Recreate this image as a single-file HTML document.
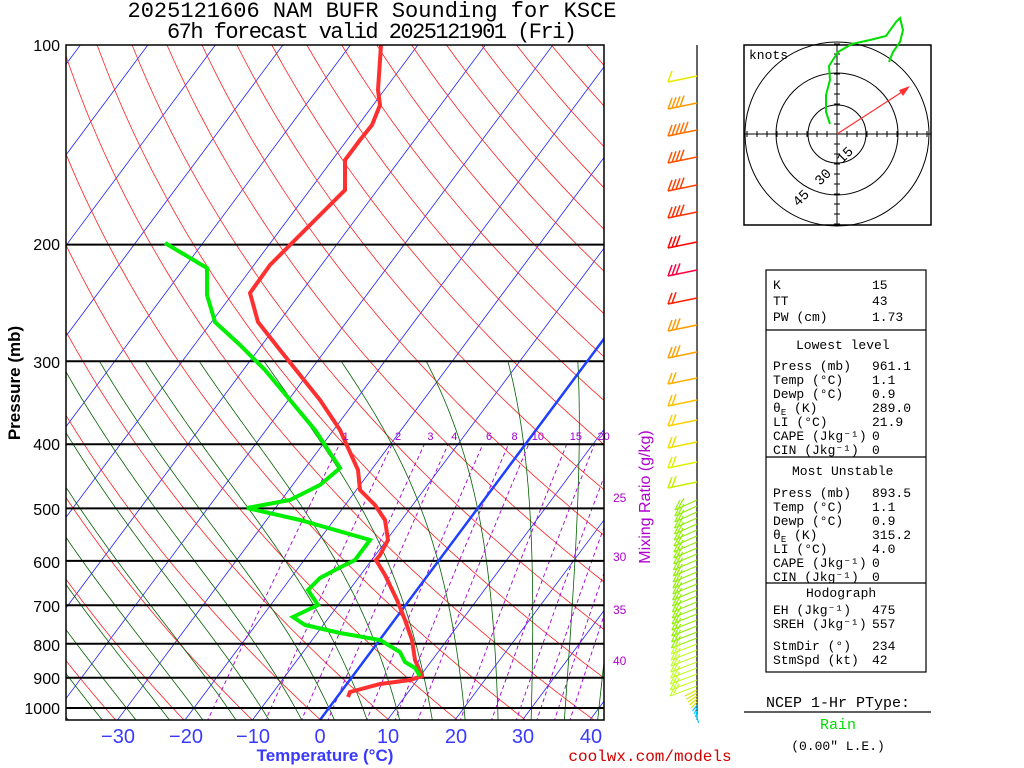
<!DOCTYPE html>
<html><head><meta charset="utf-8"><style>
body{margin:0;background:#fff;width:1024px;height:768px;overflow:hidden}
svg{display:block}
text{font-family:"Liberation Mono",monospace}
</style></head><body>
<svg id="s" width="1024" height="768" xmlns="http://www.w3.org/2000/svg">
<defs><clipPath id="c"><rect x="66" y="45" width="538" height="675"/></clipPath></defs>
<g id="bg" clip-path="url(#c)"></g>
<g id="fg"></g>
<text x="372" y="17" font-size="22" text-anchor="middle" textLength="489">2025121606 NAM BUFR Sounding for KSCE</text>
<text x="372" y="38" font-size="22" text-anchor="middle" textLength="410">67h forecast valid 2025121901 (Fri)</text>
<g font-size="16" text-anchor="end">
<text x="60" y="51" style="font-family:'Liberation Sans',sans-serif">100</text>
<text x="60" y="250" style="font-family:'Liberation Sans',sans-serif">200</text>
<text x="60" y="368" style="font-family:'Liberation Sans',sans-serif">300</text>
<text x="60" y="450" style="font-family:'Liberation Sans',sans-serif">400</text>
<text x="60" y="515" style="font-family:'Liberation Sans',sans-serif">500</text>
<text x="60" y="568" style="font-family:'Liberation Sans',sans-serif">600</text>
<text x="60" y="612" style="font-family:'Liberation Sans',sans-serif">700</text>
<text x="60" y="651" style="font-family:'Liberation Sans',sans-serif">800</text>
<text x="60" y="684" style="font-family:'Liberation Sans',sans-serif">900</text>
<text x="60" y="714" style="font-family:'Liberation Sans',sans-serif">1000</text>
</g>
<text transform="translate(20,383) rotate(-90)" font-size="17" font-weight="bold" text-anchor="middle" style="font-family:'Liberation Sans',sans-serif">Pressure (mb)</text>
<g font-size="20" fill="#3a3aff" text-anchor="middle">
<text x="118" y="743" style="font-family:'Liberation Sans'">−30</text>
<text x="186" y="743" style="font-family:'Liberation Sans'">−20</text>
<text x="253" y="743" style="font-family:'Liberation Sans'">−10</text>
<text x="320" y="743" style="font-family:'Liberation Sans'">0</text>
<text x="388" y="743" style="font-family:'Liberation Sans'">10</text>
<text x="456" y="743" style="font-family:'Liberation Sans'">20</text>
<text x="523" y="743" style="font-family:'Liberation Sans'">30</text>
<text x="591" y="743" style="font-family:'Liberation Sans'">40</text>
</g>
<text x="325" y="761" font-size="17" font-weight="bold" fill="#3a3aff" text-anchor="middle" style="font-family:'Liberation Sans',sans-serif">Temperature (°C)</text>
<text x="650" y="761" font-size="16" fill="#d00000" text-anchor="middle">coolwx.com/models</text>
<text transform="translate(650,497) rotate(-90)" font-size="16" fill="#b000d0" text-anchor="middle" style="font-family:'Liberation Sans',sans-serif">Mixing Ratio (g/kg)</text>
<g font-size="12" fill="#b000d0">
<text x="613" y="502" style="font-family:'Liberation Sans'">25</text><text x="613" y="561" style="font-family:'Liberation Sans'">30</text><text x="613" y="614" style="font-family:'Liberation Sans'">35</text><text x="613" y="665" style="font-family:'Liberation Sans'">40</text>
</g>
<rect x="744" y="45" width="187" height="180" fill="none" stroke="#000" stroke-width="1.5"/>
<g fill="none" stroke="#000" stroke-width="1">
<circle cx="837" cy="134" r="29"/><circle cx="837" cy="134" r="61"/><circle cx="837" cy="134" r="92"/>
<line x1="744" y1="134" x2="931" y2="134"/><line x1="837" y1="45" x2="837" y2="225"/>
</g>
<g id="hticks" stroke="#000" stroke-width="1"></g>
<text x="749" y="59" font-size="13">knots</text>
<text transform="translate(848,158) rotate(-45)" font-size="14" text-anchor="middle">15</text>
<text transform="translate(826,180) rotate(-45)" font-size="14" text-anchor="middle">30</text>
<text transform="translate(804,201) rotate(-45)" font-size="14" text-anchor="middle">45</text>
<polyline fill="none" stroke="#00dd00" stroke-width="2" points="830,124 826,112 826,95 830,80 829,66 838,52 852,44 870,40 886,36 896,22 900,18 903,30 900,42 893,52 889,62"/>
<line x1="837" y1="134" x2="905" y2="90" stroke="#ff3030" stroke-width="1.2"/>
<polygon points="910,86 899,90 903,96" fill="#ff3030"/>
<g fill="none" stroke="#000" stroke-width="1.2">
<rect x="766" y="270" width="160" height="402"/>
<line x1="766" y1="330" x2="926" y2="330"/><line x1="766" y1="457" x2="926" y2="457"/><line x1="766" y1="583" x2="926" y2="583"/>
</g>
<g font-size="13">
<text x="773" y="289">K</text><text x="872" y="289">15</text>
<text x="773" y="305">TT</text><text x="872" y="305">43</text>
<text x="773" y="321">PW (cm)</text><text x="872" y="321">1.73</text>
<text x="796" y="349">Lowest level</text>
<text x="773" y="370">Press (mb)</text><text x="872" y="370">961.1</text>
<text x="773" y="384">Temp (°C)</text><text x="872" y="384">1.1</text>
<text x="773" y="398">Dewp (°C)</text><text x="872" y="398">0.9</text>
<text x="773" y="412">θ<tspan font-size="9" dy="3">E</tspan><tspan dy="-3"> (K)</tspan></text><text x="872" y="412">289.0</text>
<text x="773" y="426">LI (°C)</text><text x="872" y="426">21.9</text>
<text x="773" y="440">CAPE (Jkg⁻¹)</text><text x="872" y="440">0</text>
<text x="773" y="454">CIN (Jkg⁻¹)</text><text x="872" y="454">0</text>
<text x="792" y="475">Most Unstable</text>
<text x="773" y="497">Press (mb)</text><text x="872" y="497">893.5</text>
<text x="773" y="511">Temp (°C)</text><text x="872" y="511">1.1</text>
<text x="773" y="525">Dewp (°C)</text><text x="872" y="525">0.9</text>
<text x="773" y="539">θ<tspan font-size="9" dy="3">E</tspan><tspan dy="-3"> (K)</tspan></text><text x="872" y="539">315.2</text>
<text x="773" y="553">LI (°C)</text><text x="872" y="553">4.0</text>
<text x="773" y="567">CAPE (Jkg⁻¹)</text><text x="872" y="567">0</text>
<text x="773" y="581">CIN (Jkg⁻¹)</text><text x="872" y="581">0</text>
<text x="806" y="597">Hodograph</text>
<text x="773" y="614">EH (Jkg⁻¹)</text><text x="872" y="614">475</text>
<text x="773" y="628">SREH (Jkg⁻¹)</text><text x="872" y="628">557</text>
<text x="773" y="650">StmDir (°)</text><text x="872" y="650">234</text>
<text x="773" y="664">StmSpd (kt)</text><text x="872" y="664">42</text>
</g>
<text x="838" y="707" font-size="15" text-anchor="middle">NCEP 1-Hr PType:</text>
<line x1="744" y1="712" x2="931" y2="712" stroke="#000" stroke-width="1.2"/>
<text x="838" y="729" font-size="15" fill="#00dd00" text-anchor="middle">Rain</text>
<text x="838" y="750" font-size="13" text-anchor="middle">(0.00" L.E.)</text>
<line x1="697" y1="45" x2="697" y2="720" stroke="#000" stroke-width="1.2"/>
<g id="barbs"></g>
</svg>
<script>
const NS="http://www.w3.org/2000/svg";
function Y(p){return 708-663*Math.log10(1000/p);}
function X(T,p){return 320+6.75*T+(720-Y(p))*0.745;}
const bg=document.getElementById('bg'),fg=document.getElementById('fg');
function pl(g,pts,col,w,dash){const e=document.createElementNS(NS,'polyline');e.setAttribute('points',pts.map(a=>a[0].toFixed(1)+','+a[1].toFixed(1)).join(' '));e.setAttribute('fill','none');e.setAttribute('stroke',col);e.setAttribute('stroke-width',w);if(dash)e.setAttribute('stroke-dasharray',dash);g.appendChild(e);}
const ht=document.getElementById('hticks');
for(let d=-90;d<=90;d+=10){if(d==0)continue;pl(ht,[[837+d,131],[837+d,137]],'#000',1);pl(ht,[[834,134+d],[840,134+d]],'#000',1);}
for(let T=-140;T<=40;T+=10){pl(bg,[[X(T,1050),Y(1050)],[X(T,95),Y(95)]],'#2020ff',0.8);}
for(let th=200;th<=600;th+=10){const pts=[];for(let p=1050;p>=95;p-=5){const T=th*Math.pow(p/1000,0.286)-273.15;pts.push([X(T,p),Y(p)]);}pl(bg,pts,'#ff2020',0.8);}
function es(T){return 6.112*Math.exp(17.67*T/(T+243.5));}
for(let T0=-45;T0<=40;T0+=5){let Tt=T0+273.15;const pts=[];
 for(let q=1000;q<1050;q+=1){const rs=0.622*es(Tt-273.15)/(q-es(Tt-273.15));const d=(287*Tt+2.5e6*rs)/(1004+2.5e6*2.5e6*rs*0.622/(287*Tt*Tt))/q;Tt+=d;}
 let T=Tt;for(let p=1050;p>=300;p-=2){pts.push([X(T-273.15,p),Y(p)]);const rs=0.622*es(T-273.15)/(p-es(T-273.15));const d=(287*T+2.5e6*rs)/(1004+2.5e6*2.5e6*rs*0.622/(287*T*T))/p;T-=d*2;}
 pl(bg,pts,'#006000',0.8);}
[1,2,3,4,6,8,10,15,20,25,30,35,40].forEach(w=>{const pts=[];for(let p=1050;p>=400;p-=10){const e=w*p/(622+w);const l=Math.log(e/6.112);const T=243.5*l/(17.67-l);pts.push([X(T,p),Y(p)]);}pl(bg,pts,'#a000d0',0.9,'4,3');
 if(w<=20){const e=w*400/(622+w);const l=Math.log(e/6.112);const T=243.5*l/(17.67-l);const t=document.createElementNS(NS,'text');t.setAttribute('x',X(T,400)+3);t.setAttribute('y',440);t.setAttribute('font-size','11');t.setAttribute('fill','#a000d0');t.setAttribute('style',"font-family:'Liberation Sans'");t.textContent=w;fg.appendChild(t);}});
[200,300,400,500,600,700,800,900,1000].forEach(p=>pl(bg,[[66,Y(p)],[604,Y(p)]],'#000',2));
pl(bg,[[X(0,1050),Y(1050)],[X(0,95),Y(95)]],'#2040ff',2.5);
pl(bg,[[381,45],[378,90],[380,105],[372,125],[360,140],[345,160],[345,190],[320,215],[295,240],[270,265],[250,293],[258,322],[280,350],[300,375],[320,400],[340,430],[358,470],[360,490],[375,505],[385,520],[388,540],[380,555],[376,560],[385,575],[397,600],[405,620],[412,640],[415,660],[422,676],[410,680],[380,684],[365,688],[350,692],[348,697]],'#ff3030',4);
pl(bg,[[165,243],[207,268],[207,295],[215,322],[240,345],[265,370],[290,400],[315,430],[340,468],[320,485],[290,500],[247,508],[300,520],[370,540],[355,560],[335,570],[320,578],[308,590],[318,605],[293,617],[305,625],[340,633],[380,640],[400,652],[405,662],[415,668],[420,676]],'#00ee00',4);
const r=document.createElementNS(NS,'rect');r.setAttribute('x',66);r.setAttribute('y',45);r.setAttribute('width',538);r.setAttribute('height',675);r.setAttribute('fill','none');r.setAttribute('stroke','#000');r.setAttribute('stroke-width','1.5');fg.appendChild(r);
const bb=document.getElementById('barbs');
const lv=[[76,'#e8e800',1],[103,'#ff9900',4],[130,'#ff7000',5],[157,'#ff5000',4],[185,'#ff4000',4],[212,'#ff3000',4],[242,'#ff0000',3],[270,'#ff0040',3],[298,'#ff2000',2],[325,'#ff9900',3],[352,'#ffa000',3],[378,'#ffb000',2],[400,'#ffc000',2],[420,'#ffd000',2],[442,'#f0e000',2],[462,'#e0f000',2],[482,'#c8f000',2]];
lv.forEach(([y,c,n])=>{pl(bb,[[697,y],[668,y+6]],c,1.5);for(let i=0;i<n;i++){const x=668+i*4,yy=y+6-i*0.8;pl(bb,[[x,yy],[x+4,yy-11]],c,1.5);}});
for(let y=500;y<=690;y+=6){const f=(y-500)/190;const c=f<0.75?'#90f000':'#c0ff20';pl(bb,[[697,y],[675-f*5,y+10]],c,1.2);pl(bb,[[675-f*5,y+10],[680-f*5,y]],c,1.2);pl(bb,[[679-f*5,y+7],[684-f*5,y-2]],c,1.2);}
for(let y=690;y<=718;y+=3){pl(bb,[[697,y],[685+(y-690)*0.5,y+6]],y<705?'#e0e000':'#00c8ff',1.2);}
</script>
</body></html>
